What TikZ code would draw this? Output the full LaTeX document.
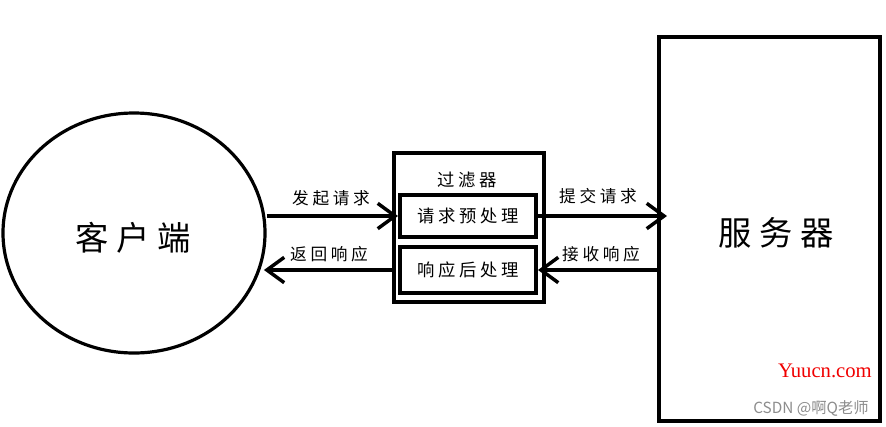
\documentclass[tikz,border=0pt]{standalone}
\usepackage{fontspec}
\usetikzlibrary{shapes.geometric,arrows.meta}
\newfontfamily\cjk{Noto Sans CJK SC}
\newfontfamily\cjkwide[LetterSpace=22]{Noto Sans CJK SC}
\newfontfamily\wmserif{Liberation Serif}

\tikzset{every picture/.style={line width=0.75pt}}
\tikzset{
	thickbox/.style={draw, line width=3pt, rectangle, inner sep=0pt},
	flow/.style={line width=3pt, -{Straight Barb[length=13pt,width=19pt,line width=2.6pt]}},
	flowlabel/.style={font=\cjkwide\fontsize{12.5}{14}\selectfont},
}

\begin{document}
\begin{tikzpicture}[x=0.75pt,y=0.75pt,yscale=-1,xscale=1]
	\useasboundingbox (0,0) rectangle (886,426);

	%Shape: Ellipse [id:client]
	\node [draw, ellipse, line width=2.4pt, minimum width=196.5pt, minimum height=180pt, inner sep=0pt] (client) at (134,233) {};
	\node [font=\cjkwide\fontsize{25}{28}\selectfont] (clienttext) at (133,238) {客户端};
	%Shape: Rectangle [id:server]
	\node [thickbox, minimum width=165.75pt, minimum height=288pt] (server) at (769.5,229) {};
	\node [font=\cjkwide\fontsize{25}{28}\selectfont] (servertext) at (776,233) {服务器};
	%Shape: Rectangle [id:filter]
	\node [thickbox, minimum width=112.5pt, minimum height=111.75pt] (filter) at (469,227.5) {};
	% Text Node
	\node [font=\cjkwide\fontsize{13}{15}\selectfont] (filtertitle) at (467,180) {过滤器};
	%Shape: Rectangle [id:pre]
	\node [thickbox, minimum width=102pt, minimum height=31.5pt, font=\cjkwide\fontsize{13}{15}\selectfont] (pre) at (468,216) {请求预处理};
	%Shape: Rectangle [id:post]
	\node [thickbox, minimum width=102pt, minimum height=34.5pt, font=\cjkwide\fontsize{13}{15}\selectfont] (post) at (468,270) {响应后处理};

	%Straight Lines [id:send]
	\draw [flow] (pre.west -| client.east) -- (pre.west) ;
	%Straight Lines [id:submit]
	\draw [flow] (pre.east) -- ([xshift=7.5pt]pre.east -| server.west) ;
	%Straight Lines [id:receive]
	\draw [flow] (post.east -| server.west) -- (post.east) ;
	%Straight Lines [id:return]
	\draw [flow] (post.west -| filter.west) -- ([xshift=-2pt]post.west -| client.east) ;

	% Text Node
	\node [flowlabel] (sendlabel) at (331,198) {发起请求};
	% Text Node
	\node [flowlabel] (returnlabel) at (329,254) {返回响应};
	% Text Node
	\node [flowlabel] (submitlabel) at (598,196) {提交请求};
	% Text Node
	\node [flowlabel] (receivelabel) at (601,254) {接收响应};

	% Text Node
	\node [font=\wmserif\fontsize{15.5}{17}\selectfont, text={rgb,255:red,240;green,0;blue,0}] (wmsite) at (825,371) {Yuucn.com};
	% Text Node
	\node [font=\cjk\fontsize{11.5}{13}\selectfont, text={rgb,255:red,140;green,140;blue,140}] (wmcsdn) at (811,408) {CSDN @啊Q老师};

\end{tikzpicture}
\end{document}
